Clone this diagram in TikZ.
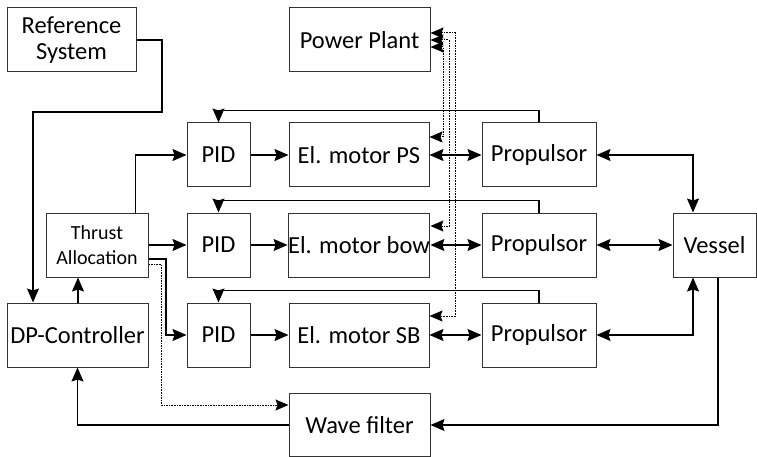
\documentclass[tikz,border=0pt]{standalone}
\usepackage{fontspec}
\setmainfont{Carlito}
\usetikzlibrary{arrows.meta}
\begin{document}
\begin{tikzpicture}[x=1pt,y=-1pt,
  box/.style={draw=black!80,line width=1pt,rectangle,inner sep=0pt,align=center,font=\fontsize{24.5}{27}\selectfont},
  arr/.style={line width=1.3pt,-{Stealth[length=14pt,width=12pt,inset=2pt]}},
  barr/.style={line width=1.3pt,{Stealth[length=14pt,width=12pt,inset=2pt]}-{Stealth[length=14pt,width=12pt,inset=2pt]}},
  dd/.style={line width=1pt,dash pattern=on 1.6pt off 1pt,{Stealth[length=13pt,width=11pt,inset=2pt]}-{Stealth[length=13pt,width=11pt,inset=2pt]}},
  da/.style={line width=1pt,dash pattern=on 1.6pt off 1pt,-{Stealth[length=13pt,width=11pt,inset=2pt]}}]
\useasboundingbox (0,0) rectangle (757,457);
% nodes
\node[box,minimum width=129pt,minimum height=64pt] (ref) at (71.5,40) {Reference\\[-1pt]System};
\node[box,minimum width=141pt,minimum height=64pt] (pp) at (359.5,40) {Power Plant};
\node[box,minimum width=102pt,minimum height=64pt,font=\fontsize{20}{24}\selectfont] (ta) at (97,245) {Thrust\\[1pt]Allocation};
\node[box,minimum width=141pt,minimum height=64pt] (dp) at (77.5,335) {DP-Controller};
\node[box,minimum width=141pt,minimum height=63pt] (wf) at (359.5,425) {Wave filter};
\node[box,minimum width=83pt,minimum height=64pt] (vessel) at (714.5,245) {Vessel};
\foreach \i/\y/\m in {1/155/El. motor PS,2/245/El. motor bow,3/335/El. motor SB}{
  \node[box,minimum width=63pt,minimum height=64pt] (pid\i) at (218.5,\y) {PID};
  \node[box,minimum width=140pt,minimum height=64pt] (em\i) at (359,\y) {\m};
  \node[box,minimum width=114pt,minimum height=64pt] (prop\i) at (539,\y) {Propulsor};
}
% connectors
\draw[arr] (ref.east) -| (162,112) -| ([xshift=-44.5pt]dp.north);
\draw[arr] ([xshift=0.5pt]dp.north) -- ([xshift=-19pt]ta.south);
\draw[arr] ([xshift=38.5pt]ta.north) |- (pid1.west);
\draw[arr] (ta.east) -- (pid2.west);
\draw[arr] ([yshift=-14pt]ta.east) -| (166,300) |- (pid3.west);
\draw[da] ([yshift=-19pt]ta.east) -| (161,405) -- ([yshift=20pt]wf.west);
\foreach \i in {1,2,3}{
  \draw[arr] (pid\i.east) -- (em\i.west);
  \draw[barr] (em\i.east) -- (prop\i.west);
  \draw[arr] (prop\i.north) -- ++(0,-12) -| (pid\i.north);
}
\draw[barr] (prop1.east) -| ([xshift=-21.5pt]vessel.north);
\draw[barr] (prop2.east) -- (vessel.west);
\draw[barr] (prop3.east) -| ([xshift=-21.5pt]vessel.south);
\draw[arr] ([xshift=3.5pt]vessel.south) |- (wf.east);
\draw[arr] (wf.west) -| (dp.south);
% power plant dotted links
\draw[dd] ([yshift=7pt]pp.east) -| (455,316) -- ([yshift=19pt]em3.east);
\draw[dd] (pp.east) -| (449,226) -- ([yshift=19pt]em2.east);
\draw[dd] ([yshift=-7pt]pp.east) -| (443,137) -- ([yshift=18pt]em1.east);
\end{tikzpicture}
\end{document}
